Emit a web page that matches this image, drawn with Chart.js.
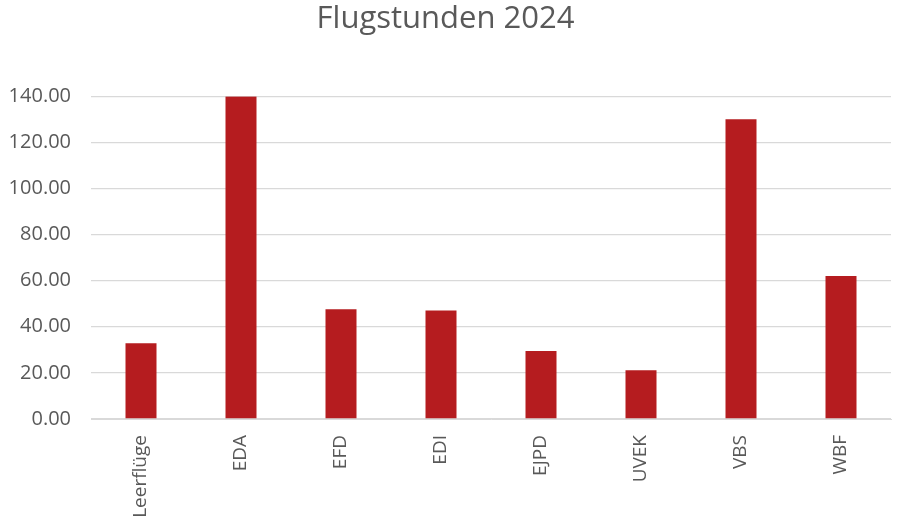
<!DOCTYPE html>
<html>
<head>
<meta charset="utf-8">
<script src="https://cdn.jsdelivr.net/npm/chart.js@4/dist/chart.umd.min.js"></script>
<style>
  html, body { margin: 0; padding: 0; background: #fff; }
  #wrap { width: 900px; height: 528px; }
</style>
</head>
<body>
<div id="wrap"><canvas id="flug"></canvas></div>
<script>
var categories = ['Leerflüge', 'EDA', 'EFD', 'EDI', 'EJPD', 'UVEK', 'VBS', 'WBF'];
var hours = [32.8, 139.9, 47.6, 47.1, 29.5, 21.1, 130.0, 62.0];
var yTicks = [0, 20, 40, 60, 80, 100, 120, 140];

var textGrey = '#595959';
var gridGrey = '#d9d9d9';
var barRed = '#b51c1f';

var chart = new Chart('flug', {
    type: 'bar',
    data: {
        labels: categories,
        datasets: [{
            data: hours,
            backgroundColor: barRed,
            categoryPercentage: 1,
            barPercentage: 0.31
        }]
    },
    options: {
        responsive: true,
        maintainAspectRatio: false,
        animation: false,
        layout: { padding: { left: 0, right: 9, top: 0, bottom: 0 } },
        plugins: {
            legend: { display: false },
            tooltip: { enabled: false },
            title: {
                display: true,
                text: 'Flugstunden 2024',
                color: textGrey,
                font: { family: 'Open Sans', size: 31, weight: 'normal' },
                padding: { top: 1, bottom: 58 }
            }
        },
        scales: {
            x: {
                afterFit: function (axis) { axis.height = 109; },
                grid: { display: false, drawTicks: false },
                border: { color: gridGrey, width: 1 },
                ticks: {
                    color: textGrey,
                    font: { family: 'Open Sans', size: 19 },
                    minRotation: 90,
                    maxRotation: 90,
                    padding: 16
                }
            },
            y: {
                min: 0,
                max: 140,
                afterFit: function (axis) { axis.width = 91; },
                afterBuildTicks: function (axis) {
                    axis.ticks = yTicks.map(function (v) { return { value: v }; });
                },
                grid: { color: gridGrey, lineWidth: 1.3, drawTicks: false },
                border: { display: false },
                ticks: {
                    color: textGrey,
                    font: { family: 'Open Sans', size: 20 },
                    padding: 20,
                    callback: function (v) { return v.toFixed(2); }
                }
            }
        }
    }
});
</script>
</body>
</html>
